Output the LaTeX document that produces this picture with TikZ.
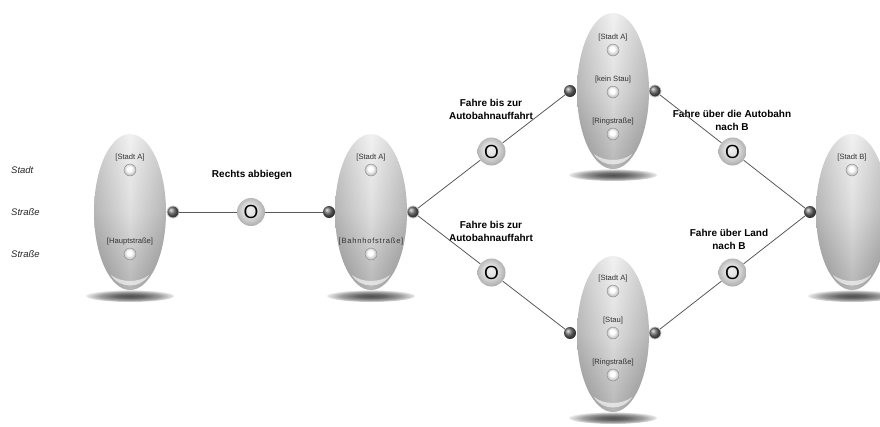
\documentclass[tikz,border=0pt]{standalone}
\usepackage{fontspec}
\setmainfont{Liberation Sans}
\usetikzlibrary{shapes.geometric}

% soft floor shadow under each place
\pgfdeclareradialshading{floorshadow}{\pgfpoint{0bp}{0bp}}{%
  color(0bp)=(black!68); color(8bp)=(black!60); color(17bp)=(black!38);
  color(25bp)=(black!8); color(27bp)=(white); color(50bp)=(white)}
% light disc for the transitions
\pgfdeclareradialshading{tokenshade}{\pgfpoint{-3bp}{4bp}}{%
  color(0bp)=(black!6); color(12bp)=(black!13); color(25bp)=(black!30);
  color(31bp)=(black!34); color(50bp)=(black!34)}
% small marble inside the places
\pgfdeclareradialshading{marble}{\pgfpoint{-4bp}{6bp}}{%
  color(0bp)=(white); color(10bp)=(white); color(25bp)=(black!26);
  color(32bp)=(black!40); color(50bp)=(black!40)}

\tikzset{
  place/.style={ellipse, inner sep=0pt, minimum width=72pt, minimum height=156pt,
    top color=black!6, bottom color=black!34, middle color=black!15},
  sidedark/.style={left color=black, right color=black, middle color=white, opacity=0.16},
  port/.style={circle, inner sep=0pt, minimum size=12pt, ball color=black!58},
  outport/.style={port, draw=black!20, line width=0.8pt},
  token/.style={circle, inner sep=0pt, minimum size=12pt, shading=marble,
    draw=black!45, line width=0.4pt},
  trans/.style={circle, inner sep=0pt, minimum size=28pt, shading=tokenshade,
    font=\fontsize{19}{19}\selectfont},
  plabel/.style={font=\fontsize{7.6}{8}\selectfont, text=black!80, inner sep=0pt},
  tlabel/.style={font=\bfseries\fontsize{10}{13}\selectfont, align=center, inner sep=0pt},
  rowlabel/.style={font=\itshape\fontsize{9.5}{10}\selectfont, text=black!85,
    anchor=west, inner sep=0pt},
  link/.style={draw=black!65, line width=0.8pt}
}

% place body: name, centre x, centre y
\newcommand\placebody[3]{%
  \shade[shading=floorshadow] (#2,#3+84) ellipse [x radius=44pt, y radius=6pt];
  \node[place] (#1) at (#2,#3) {};
  \shade[sidedark] (#2,#3) ellipse [x radius=36pt, y radius=78pt];
  \begin{scope}
    \clip (#2,#3) ellipse [x radius=36pt, y radius=78pt];
    \fill[white, opacity=0.6] (#2-19,#3+63)
      .. controls (#2-11,#3+77) and (#2+11,#3+77) .. (#2+19,#3+63)
      .. controls (#2+9,#3+71) and (#2-9,#3+71) .. cycle;
  \end{scope}
}

\begin{document}
\begin{tikzpicture}[x=1pt, y=-1pt]
\useasboundingbox (0,0) rectangle (880,426);

% row captions
\node[rowlabel] (r1) at (11,170) {Stadt};
\node[rowlabel] (r2) at (11,212) {Straße};
\node[rowlabel] (r3) at (11,254) {Straße};

% places
\placebody{p1}{130}{212}
\placebody{p2}{371}{212}
\placebody{p3}{613}{91}
\placebody{p4}{613}{334}
\placebody{p5}{852}{212}

% tokens and their captions
\node[token] (p1a) at (130,170) {};
\node[plabel] (p1al) at (130,158) {[Stadt A]};
\node[token] (p1b) at (130,254) {};
\node[plabel] (p1bl) at (130,242) {[Hauptstraße]};

\node[token] (p2a) at (371,170) {};
\node[plabel] (p2al) at (371,158) {[Stadt A]};
\node[token] (p2b) at (371,254) {};
\node[plabel] (p2bl) at (371,242) {\addfontfeature{LetterSpace=10}[Bahnhofstraße]};

\node[token] (p3a) at (613,50) {};
\node[plabel] (p3al) at (613,38) {[Stadt A]};
\node[token] (p3b) at (613,92) {};
\node[plabel] (p3bl) at (613,80) {[kein Stau]};
\node[token] (p3c) at (613,134) {};
\node[plabel] (p3cl) at (613,122) {[Ringstraße]};

\node[token] (p4a) at (613,291) {};
\node[plabel] (p4al) at (613,279) {[Stadt A]};
\node[token] (p4b) at (613,333) {};
\node[plabel] (p4bl) at (613,321) {[Stau]};
\node[token] (p4c) at (613,375) {};
\node[plabel] (p4cl) at (613,363) {[Ringstraße]};

\node[token] (p5a) at (852,170) {};
\node[plabel] (p5al) at (852,158) {[Stadt B]};

% ports
\node[outport] (o1) at (173,212) {};
\node[port]    (i2) at (329,212) {};
\node[outport] (o2) at (413,212) {};
\node[port]    (i3) at (570,91) {};
\node[outport] (o3) at (655,91) {};
\node[port]    (i4) at (570,333) {};
\node[outport] (o4) at (655,333) {};
\node[port]    (i5) at (810,212) {};

% transitions
\node[trans] (t1) at (251,212) {O};
\node[trans] (t2) at (491.5,151.5) {O};
\node[trans] (t3) at (491.5,272.5) {O};
\node[trans] (t4) at (732.5,151.5) {O};
\node[trans] (t5) at (732.5,272.5) {O};

% transition captions
\node[tlabel] (l1) at (252,175) {Rechts abbiegen};
\node[tlabel] (l2) at (491,109.5) {Fahre bis zur\\Autobahnauffahrt};
\node[tlabel] (l3) at (491,231.5) {Fahre bis zur\\Autobahnauffahrt};
\node[tlabel] (l4) at (732,120.5) {Fahre über die Autobahn\\nach B};
\node[tlabel] (l5) at (729,239.5) {Fahre über Land\\nach B};

% arcs
\draw[link] (o1) -- (t1) -- (i2);
\draw[link] (o2) -- (t2) -- (i3);
\draw[link] (o2) -- (t3) -- (i4);
\draw[link] (o3) -- (t4) -- (i5);
\draw[link] (o4) -- (t5) -- (i5);
\end{tikzpicture}
\end{document}
